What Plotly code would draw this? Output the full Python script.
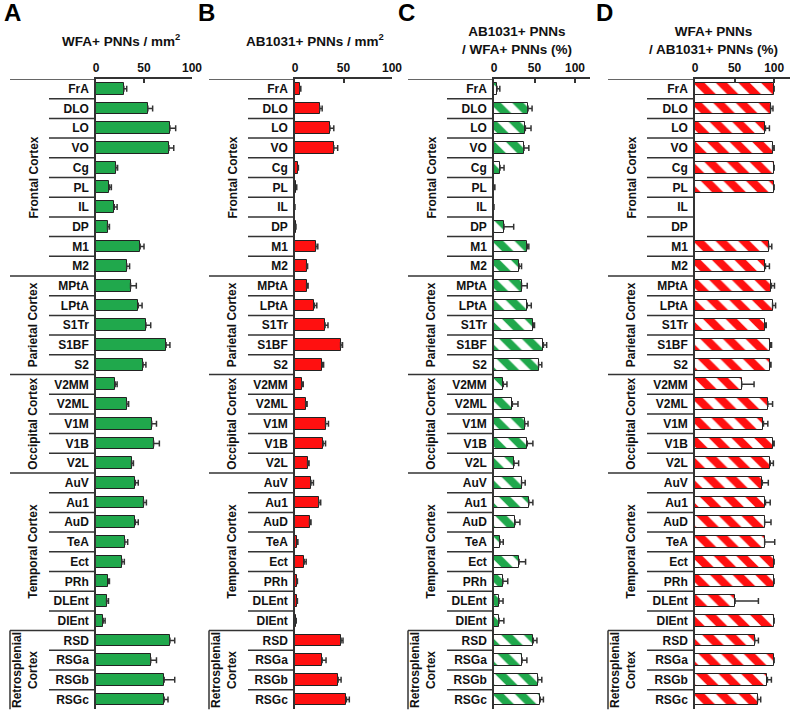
import plotly.graph_objects as go

regions = ["FrA", "DLO", "LO", "VO", "Cg", "PL", "IL", "DP", "M1", "M2",
           "MPtA", "LPtA", "S1Tr", "S1BF", "S2",
           "V2MM", "V2ML", "V1M", "V1B", "V2L",
           "AuV", "Au1", "AuD", "TeA", "Ect", "PRh", "DLEnt", "DIEnt",
           "RSD", "RSGa", "RSGb", "RSGc"]
groups = ["Frontal Cortex", "Parietal Cortex", "Occipital Cortex",
          "Temporal Cortex", "Retrosplenial<br>Cortex"]
group_sizes = [10, 5, 5, 8, 4]

# A: WFA+ PNNs / mm2
wfa = [29, 54, 77, 76, 20.5, 14, 19, 12, 46, 32,
       36, 44, 52, 73, 49,
       20, 32, 58, 60, 37,
       41, 49.5, 41, 30, 27, 13, 11, 7.5,
       77, 57, 71, 71]
wfa_err = [3, 5, 6, 5, 2, 2, 3, 2, 4, 3,
           6, 4, 5, 4, 3,
           2, 2, 5, 6, 2,
           3, 3, 3, 3, 2.5, 1, 2, 2,
           5, 6, 11, 4]
# B: AB1031+ PNNs / mm2
ab = [5, 25.5, 36, 40, 3, 1.5, 0, 0.8, 21.5, 12,
      12, 20, 31, 47, 28,
      7, 11, 31.5, 29, 13,
      16.5, 24.5, 15, 2.5, 9.5, 2, 2, 1,
      47.5, 28, 44.5, 53]
ab_err = [1, 2.5, 4, 4, 0.5, 0.3, 0, 0.2, 2, 1,
          1.5, 2.5, 3, 2, 1.5,
          1.5, 1.5, 3, 2.5, 1.5,
          2.5, 2, 1.5, 0.5, 2, 0.5, 0.5, 0.3,
          2, 4, 3, 3]
# C: AB1031+ / WFA+ (%)
ab_over_wfa = [3.7, 42, 38.7, 37, 7.4, 0.6, 0, 12.3, 41, 31,
               34, 41, 48.5, 61, 55,
               11.5, 22.6, 38, 41, 24.7,
               34, 43, 26, 7.4, 31, 11, 6.2, 6.2,
               48.5, 34.6, 54, 57]
ab_over_wfa_err = [3.5, 5, 7, 6, 5, 0.5, 0, 12, 2, 3,
                   7, 5, 1.5, 4, 4,
                   4.5, 7, 4, 7, 5.7,
                   4.5, 5, 6, 4, 8, 6, 5, 6,
                   4.5, 6, 5, 4]
# D: WFA+ / AB1031+ (%)
wfa_over_ab = [100, 95.5, 89, 98, 100, 100, None, None, 93, 89,
               96.6, 98, 89, 95, 95,
               59, 92, 86.5, 99, 95,
               85, 89, 88, 88, 100, 100, 50.6, 100,
               75.5, 100, 91.5, 79]
wfa_over_ab_err = [0, 3, 5, 2, 0, 0, None, None, 4, 5,
                   3.8, 3.8, 1, 1.7, 1,
                   15.6, 6, 5.5, 1, 4,
                   7.6, 6, 8, 12.7, 0, 0, 29.5, 0,
                   4.6, 0, 5, 4]

letters = ["A", "B", "C", "D"]
titles = ["WFA+ PNNs / mm<sup>2</sup>", "AB1031+ PNNs / mm<sup>2</sup>",
          "AB1031+ PNNs<br>/ WFA+ PNNs (%)", "WFA+ PNNs<br>/ AB1031+ PNNs (%)"]
tickvals = [0, 50, 100]

W, H = 791, 711
GREEN = "#20a84c"
RED = "#ff1010"
LINE = "#333333"
FONT = "Liberation Sans, Arial, sans-serif"


def px(v):
    return v / W


def py(v):
    return 1 - v / H


# pixel geometry of each panel
panels = [
    dict(zero=96, end=192, rmax=100, lab=49, grp=10, gx=33, lx=2, tx=121),
    dict(zero=295, end=392, rmax=100, lab=248, grp=209, gx=232, lx=196, tx=315),
    dict(zero=494, end=590, rmax=118.5, lab=447, grp=408, gx=431, lx=396, tx=517),
    dict(zero=695, end=790, rmax=120, lab=647, grp=608, gx=631, lx=594, tx=713),
]
series = [(wfa, wfa_err, GREEN, False), (ab, ab_err, RED, False),
          (ab_over_wfa, ab_over_wfa_err, GREEN, True),
          (wfa_over_ab, wfa_over_ab_err, RED, True)]

n = len(regions)
ypos = list(range(n))
fig = go.Figure()
shapes = []
annotations = []
layout = {}
ydom = [py(709.4), py(79)]
lblfont = dict(size=12, weight="bold", color="#111")

for i, (p, (vals, errs, col, hatched)) in enumerate(zip(panels, series)):
    k = "" if i == 0 else str(i + 1)
    xa, ya = "x" + k, "y" + k
    marker = dict(color="white" if hatched else col,
                  line=dict(color="#222222", width=1))
    if hatched:
        marker["pattern"] = dict(shape="\\", fgcolor=col, bgcolor="white",
                                 size=16, solidity=0.5, fgopacity=1)
    fig.add_trace(go.Bar(
        x=vals, y=ypos, orientation="h", width=0.6, marker=marker,
        error_x=dict(type="data", array=errs, symmetric=False,
                     arrayminus=[0] * n, color=LINE, thickness=1.5, width=3),
        xaxis=xa, yaxis=ya, showlegend=False))
    layout["xaxis" + k] = dict(
        domain=[px(p["zero"]), px(p["end"])], range=[0, p["rmax"]],
        anchor=ya, side="top", showgrid=False, zeroline=False,
        showline=True, linecolor=LINE, linewidth=1.5,
        ticks="inside", ticklen=4, tickwidth=1.5, tickcolor=LINE,
        tickvals=tickvals, tickfont=lblfont)
    layout["yaxis" + k] = dict(
        domain=ydom, range=[n - 0.5, -0.5], anchor=xa,
        showgrid=False, zeroline=False, showline=True,
        linecolor=LINE, linewidth=1.5, ticks="",
        tickvals=ypos, ticktext=regions, ticklabelstandoff=3,
        tickfont=lblfont)

    # top axis line extension to the left
    shapes.append(dict(type="line", xref="paper", yref=ya,
                       x0=px(p["grp"]), x1=px(p["zero"]), y0=-0.5, y1=-0.5,
                       line=dict(color=LINE, width=1.5)))
    # row separators
    bounds = set()
    acc = 0
    for s in group_sizes[:-1]:
        acc += s
        bounds.add(acc)
    for b in range(1, n):
        x0 = p["grp"] if b in bounds else p["lab"]
        shapes.append(dict(type="line", xref="paper", yref=ya,
                           x0=px(x0), x1=px(p["zero"]), y0=b - 0.5, y1=b - 0.5,
                           line=dict(color=LINE, width=1.5)))
    # left border of last group
    shapes.append(dict(type="line", xref="paper", yref=ya,
                       x0=px(p["grp"]), x1=px(p["grp"]),
                       y0=n - group_sizes[-1] - 0.5, y1=n - 0.5,
                       line=dict(color=LINE, width=1.5)))
    # group labels
    start = 0
    for g, s in zip(groups, group_sizes):
        lines = g.split("<br>")
        offs = [0] if len(lines) == 1 else [-16, 0]
        for t, o in zip(lines, offs):
            annotations.append(dict(
                text=t, xref="paper", yref=ya,
                x=px(p["gx"] + o), y=start + (s - 1) / 2,
                textangle=-90, showarrow=False, xanchor="center",
                yanchor="middle", font=lblfont))
        start += s
    # panel letter and title
    annotations.append(dict(text=letters[i], xref="paper", yref="paper",
                            x=px(p["lx"]), y=py(12), xanchor="left",
                            yanchor="middle", showarrow=False,
                            font=dict(size=24, weight="bold", color="black")))
    annotations.append(dict(text=titles[i], xref="paper", yref="paper",
                            x=px(p["tx"]), y=py(40), xanchor="center",
                            yanchor="middle", showarrow=False, align="center",
                            font=dict(size=13.5, weight="bold", color="#111")))

fig.update_layout(
    width=W, height=H, margin=dict(l=0, r=0, t=0, b=0, autoexpand=False),
    template="none", paper_bgcolor="white", plot_bgcolor="white",
    font=dict(family=FONT), bargap=0, shapes=shapes, annotations=annotations,
    **layout)

fig.write_html("out.html", config={"displayModeBar": False},
               post_script="document.body.style.margin='0px';")
